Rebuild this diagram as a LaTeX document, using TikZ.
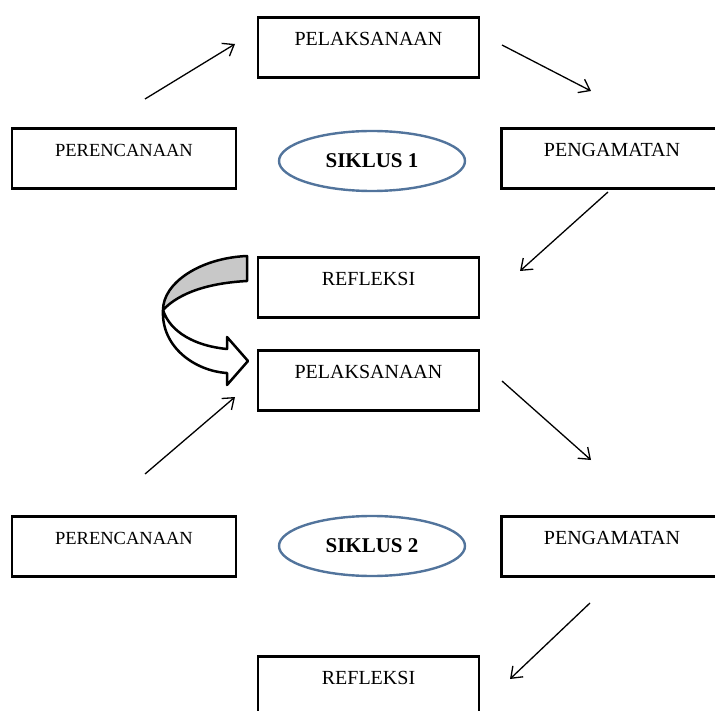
\documentclass[tikz,border=0pt]{standalone}
\usepackage{fontspec}
\setmainfont{Liberation Serif}
\usetikzlibrary{arrows.meta,shapes.geometric}
\definecolor{ellblue}{RGB}{82,116,156}
\definecolor{bandgray}{RGB}{200,200,200}
\begin{document}
\begin{tikzpicture}[x=1pt,y=-1pt,
  box/.style={draw=black, line width=2.8pt, rectangle, inner xsep=0pt, inner ysep=0pt,
    anchor=north, text height=28pt, text depth=32pt, minimum width=221pt,
    font=\fontsize{20}{24}\selectfont},
  sbox/.style={box, font=\fontsize{18.5}{22}\selectfont},
  cyc/.style={draw=ellblue, line width=2.4pt, ellipse, minimum width=186pt, minimum height=60pt,
    inner sep=0pt, font=\fontsize{21}{24}\selectfont\bfseries},
  arr/.style={line width=1.3pt, -{Straight Barb[length=10pt,width=15pt]}},
  band/.style={draw=black, line width=2.5pt, line join=round}
]
\useasboundingbox (0,0) rectangle (715,711);
\clip (0,0) rectangle (715,711);

% cycle 1
\node[box] (pel1) at (368.5,16) {PELAKSANAAN};
\node[sbox, minimum width=224pt] (per1) at (124,127) {PERENCANAAN};
\node[box] (pen1) at (612,127) {PENGAMATAN};
\node[cyc] (sik1) at (372,161) {SIKLUS 1};
\node[box] (ref1) at (368.5,256) {REFLEKSI};

% cycle 2
\node[box] (pel2) at (368.5,349) {PELAKSANAAN};
\node[sbox, minimum width=224pt] (per2) at (124,515) {PERENCANAAN};
\node[box] (pen2) at (612,515) {PENGAMATAN};
\node[cyc] (sik2) at (372,546) {SIKLUS 2};
\node[box] (ref2) at (368.5,655) {REFLEKSI};

% arrow end points
\coordinate (a1s) at (145,99);
\coordinate (a1e) at (235,44);
\coordinate (a2s) at (502,45);
\coordinate (a2e) at (591,91);
\coordinate (a3s) at (608,192);
\coordinate (a3e) at (520,271);
\coordinate (a4s) at (145,474);
\coordinate (a4e) at (235,397);
\coordinate (a5s) at (502,381);
\coordinate (a5e) at (591,460);
\coordinate (a6s) at (590,603);
\coordinate (a6e) at (510,679);

\draw[arr] (a1s) -- (a1e);
\draw[arr] (a2s) -- (a2e);
\draw[arr] (a3s) -- (a3e);
\draw[arr] (a4s) -- (a4e);
\draw[arr] (a5s) -- (a5e);
\draw[arr] (a6s) -- (a6e);

% curved arrow from REFLEKSI to PELAKSANAAN
\coordinate (cgt) at (247,256);
\coordinate (cgb) at (247,281);
\coordinate (cl) at (163,310);
\coordinate (cnl) at (227,373);
\coordinate (cbl) at (227,385);
\coordinate (ctip) at (248,361);
\coordinate (cbu) at (227,337);
\coordinate (cnu) at (227,349);
\filldraw[band, fill=white] (cl) .. controls (161,347) and (195,371) .. (cnl) -- (cbl) -- (ctip) -- (cbu) -- (cnu)
  .. controls (195,346) and (170,332) .. (cl) -- cycle;
\filldraw[band, fill=bandgray] (cgt) .. controls (200,258) and (163,283) .. (cl)
  .. controls (180,292) and (210,283) .. (cgb) -- cycle;
\end{tikzpicture}
\end{document}
